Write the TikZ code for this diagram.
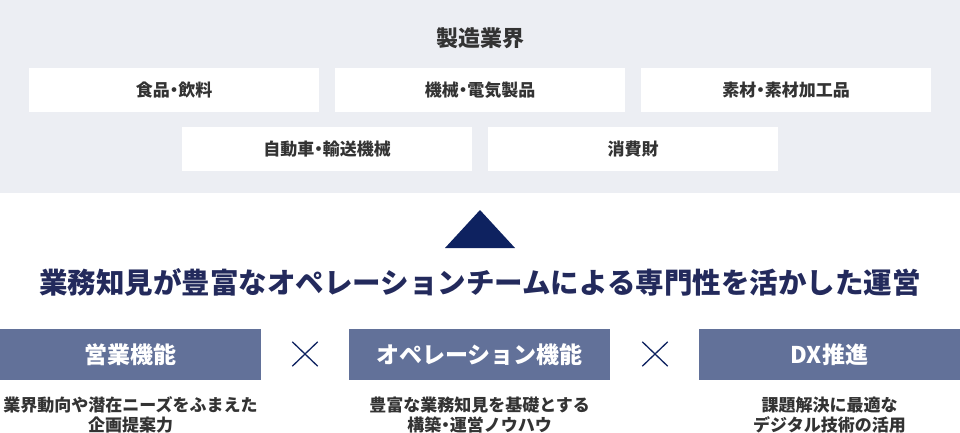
\documentclass[tikz,border=0pt]{standalone}
\usepackage{fontspec}
\setmainfont{Noto Sans CJK JP}
\newfontfamily\paltfont{Noto Sans CJK JP}[RawFeature=+palt]
\usetikzlibrary{shapes.misc}

\definecolor{bggray}{HTML}{ECEEF3}
\definecolor{boxblue}{HTML}{627199}
\definecolor{navy}{HTML}{0E2260}
\definecolor{headnavy}{HTML}{232A5C}
\definecolor{textgray}{HTML}{333333}

\tikzset{
  industry/.style={fill=white, minimum width=290pt, minimum height=44pt, inner sep=0pt,
    text=textgray, font=\paltfont\fontsize{17}{20}\selectfont\bfseries},
  function/.style={fill=boxblue, minimum width=261pt, minimum height=51pt, inner sep=0pt,
    text=white, font=\fontsize{23}{28}\selectfont\bfseries},
  caption/.style={align=center, text=textgray, font=\fontsize{17}{20}\selectfont\bfseries},
  times/.style={cross out, draw=navy, line width=1.3pt, minimum width=24pt, minimum height=23pt, inner sep=0pt}
}

\begin{document}
\begin{tikzpicture}[x=1pt, y=-1pt]
            \useasboundingbox (0,0) rectangle (960,433);

            % Fondo gris
            \fill[bggray] (0,0) rectangle (960,193);
            \node[text=textgray, font=\fontsize{22}{26}\selectfont\bfseries] (title) at (480,38) {製造業界};

            % Industrias
            \node[industry] (food) at (174,90.5) {食品・飲料};
            \node[industry] (machine) at (480,90.5) {機械・電気製品};
            \node[industry] (material) at (786,90.5) {素材・素材加工品};
            \node[industry] (auto) at (327,149) {自動車・輸送機械};
            \node[industry] (consumer) at (633,149) {消費財};

            % Triangulo
            \fill[navy] (480,210) -- (515,248) -- (445,248) -- cycle;

            % Titular
            \node[text=headnavy, font=\fontsize{28.5}{32}\selectfont\bfseries] (head) at (480,282)
              {業務知見が豊富なオペレーションチームによる専門性を活かした運営};

            % Funciones
            \node[function] (sales) at (130.5,354.5) {営業機能};
            \node[function] (ops) at (479.5,354.5) {オペレーション機能};
            \node[function] (dx) at (829.5,354.5) {DX推進};

            % Cruces
            \node[times] (t1) at (305,354) {};
            \node[times] (t2) at (655,354) {};

            % Textos
            \node[caption] (salestext) at (130.5,415) {業界動向や潜在ニーズをふまえた\\企画提案力};
            \node[caption] (opstext) at (479.5,415) {豊富な業務知見を基礎とする\\構築{\paltfont ・}運営ノウハウ};
            \node[caption] (dxtext) at (829.5,415) {課題解決に最適な\\デジタル技術の活用};
\end{tikzpicture}
\end{document}
